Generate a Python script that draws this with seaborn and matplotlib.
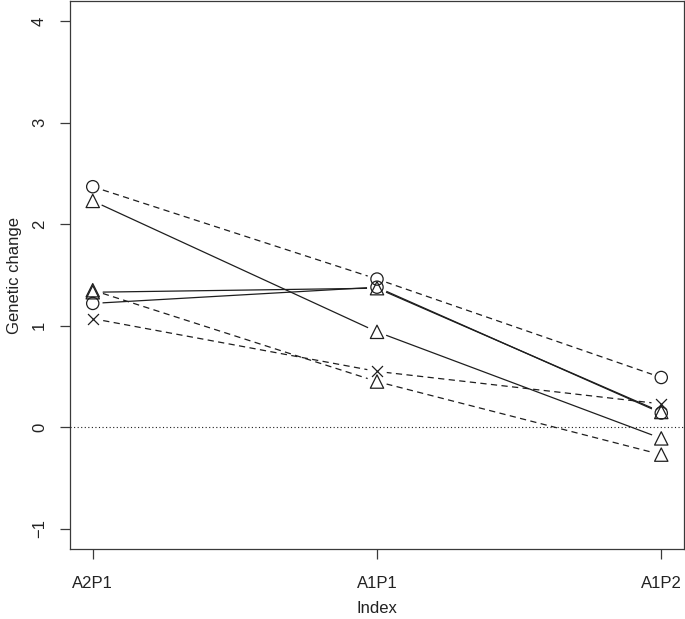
"""
Genetic change over three generations (A2P1 -> A1P1 -> A1P2),
drawn R-style: open symbols with small gaps where the lines meet them.
"""

import matplotlib
matplotlib.use('Agg')
import matplotlib.pyplot as plt
import seaborn as sns
import pandas as pd

# ---- data ----
generations = ['A2P1', 'A1P1', 'A1P2']
index_pos = [1, 2, 3]

line_names = ['L1', 'L2', 'L3', 'L4', 'L5', 'L6']
line_styles = ['dashed', 'solid', 'dashed', 'dashed', 'solid', 'solid']
line_symbols = ['circle', 'triangle', 'triangle', 'cross', 'triangle', 'circle']

L1 = [2.37, 1.46, 0.49]
L2 = [2.23, 0.94, -0.11]
L3 = [1.35, 0.45, -0.27]
L4 = [1.07, 0.55, 0.23]
L5 = [1.33, 1.37, 0.15]
L6 = [1.22, 1.38, 0.14]
values = [L1, L2, L3, L4, L5, L6]

y_ticks = [-1, 0, 1, 2, 3, 4]

INK = '#1e1e1e'
AXIS = '#3a3a3a'

rows = []
for name, style, sym, vals in zip(line_names, line_styles, line_symbols, values):
	for x, v in zip(index_pos, vals):
		rows.append({'line': name, 'pattern': style, 'symbol': sym,
					 'Index': x, 'Genetic change': v})
df = pd.DataFrame(rows)

sns.set_style('ticks')
plt.rcParams['font.family'] = ['Liberation Sans', 'DejaVu Sans']

fig = plt.figure(figsize=(6.85, 6.19), dpi=100)
ax = fig.add_axes([70 / 685, 1 - 549 / 619, 614 / 685, 548 / 619])

# lines
sns.lineplot(data=df, x='Index', y='Genetic change', units='line', estimator=None,
			 style='pattern', dashes={'solid': '', 'dashed': (5, 3.5)},
			 color=INK, linewidth=0.9, legend=False, ax=ax, sort=False)

# white discs under each point -> gaps like R's type="b"
sns.scatterplot(data=df, x='Index', y='Genetic change', marker='o', s=200,
				color='white', edgecolor='none', linewidth=0, legend=False, ax=ax, zorder=3)

# reference line at zero
ax.axhline(0, color=INK, linestyle=(0, (1, 2.2)), linewidth=0.8, zorder=3.5)

# open symbols
shape_map = {'circle': ('o', 78), 'triangle': ('^', 92), 'cross': ('x', 62)}
for sym, (mk, size) in shape_map.items():
	sub = df[df['symbol'] == sym]
	if mk == 'x':
		sns.scatterplot(data=sub, x='Index', y='Genetic change', marker=mk, s=size,
						color=INK, linewidth=0.9, legend=False, ax=ax, zorder=4)
	else:
		sns.scatterplot(data=sub, x='Index', y='Genetic change', marker=mk, s=size,
						facecolor='none', edgecolor=INK, linewidth=0.9, legend=False,
						ax=ax, zorder=4)

# axes, R look
ax.set_xlim(0.92, 3.08)
ax.set_ylim(-1.2, 4.2)
ax.set_xticks(index_pos)
ax.set_xticklabels(generations)
ax.set_yticks(y_ticks)
ax.set_yticklabels([str(t).replace('-', '\u2212') for t in y_ticks], rotation=90, va='center')
for side in ['left', 'right', 'top', 'bottom']:
	ax.spines[side].set_visible(True)
	ax.spines[side].set_color(AXIS)
	ax.spines[side].set_linewidth(0.9)
ax.tick_params(axis='both', direction='out', length=7.5, width=0.9, color=AXIS,
			   labelsize=12, labelcolor='#222222')
ax.tick_params(axis='x', pad=12)
ax.tick_params(axis='y', pad=9)

ax.set_xlabel('Index', fontsize=12, color='#222222')
ax.set_ylabel('Genetic change', fontsize=12, color='#222222')
ax.xaxis.set_label_coords(0.5, -0.095)
ax.yaxis.set_label_coords(-0.078, 0.5)

fig.savefig('out.png', dpi=100)
